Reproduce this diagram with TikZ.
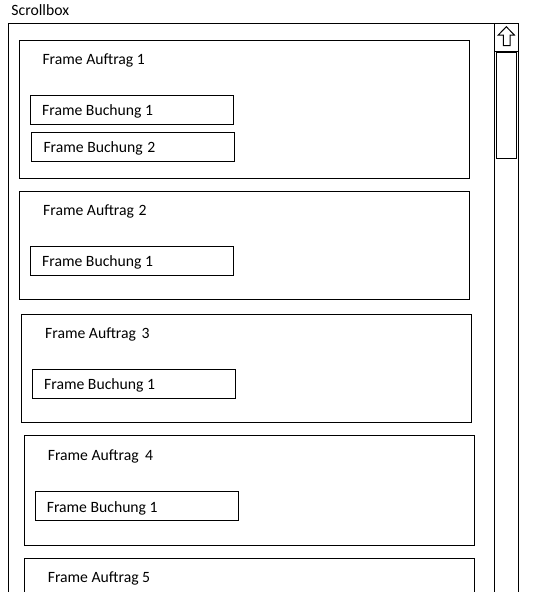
\documentclass[tikz,border=0pt]{standalone}
\usepackage{fontspec}
\usepackage{tikz}
\usetikzlibrary{positioning,calc}
\newfontfamily\calibri{Carlito}
\tikzset{every picture/.style={/utils/exec={\calibri}}}
\tikzset{
    framebox/.style={draw=black, line width=1pt, inner sep=0pt, outer sep=0pt, anchor=north west},
    frametext/.style={anchor=base west, inner sep=0pt, font=\calibri\fontsize{15.7}{18}\selectfont}
}

\begin{document}
\begin{tikzpicture}[x=1pt, y=-1pt, line width=1pt]
    \useasboundingbox (0,0) rectangle (533,592);

    \node[frametext] (title) at (11, 15) {Scrollbox};

    % scrollbox
    \draw (8.5, 600) -- (8.5, 23.5) -- (518.5, 23.5) -- (518.5, 600);
    \draw (494.5, 23.5) -- (494.5, 600);
    \node[framebox, minimum width=24pt, minimum height=28pt] (up) at (494.5, 23.5) {};
    \node[framebox, minimum width=20pt, minimum height=106pt] (thumb) at (496.5, 52.5) {};
    \draw[line join=miter] (506.3, 26.7) -- (514.3, 35) -- (510, 35) -- (510, 45.7)
        -- (503.3, 45.7) -- (503.3, 35) -- (498.3, 35) -- cycle;

    % Auftrag 1
    \node[framebox, minimum width=450pt, minimum height=138pt] (a1) at (19.5, 40.5) {};
    \node[frametext] (a1t) at (42, 64) {Frame Auftrag 1};
    \node[framebox, minimum width=203pt, minimum height=29pt] (b11) at (30.5, 95.5) {};
    \node[frametext] (b11t) at (41.7, 115) {Frame Buchung 1};
    \node[framebox, minimum width=203pt, minimum height=29pt] (b12) at (31.5, 132.5) {};
    \node[frametext] (b12t) at (43, 152) {Frame Buchung\hspace{1pt} 2};

    % Auftrag 2
    \node[framebox, minimum width=450pt, minimum height=107.5pt] (a2) at (19.5, 191.5) {};
    \node[frametext] (a2t) at (42.7, 215) {Frame Auftrag\hspace{1pt} 2};
    \node[framebox, minimum width=203pt, minimum height=29pt] (b21) at (30.5, 246.5) {};
    \node[frametext] (b21t) at (41.7, 266) {Frame Buchung 1};

    % Auftrag 3
    \node[framebox, minimum width=450pt, minimum height=107.5pt] (a3) at (21.5, 314.5) {};
    \node[frametext] (a3t) at (44.7, 338) {Frame Auftrag\hspace{2pt} 3};
    \node[framebox, minimum width=203pt, minimum height=29pt] (b31) at (32.5, 369.5) {};
    \node[frametext] (b31t) at (43.7, 389) {Frame Buchung 1};

    % Auftrag 4
    \node[framebox, minimum width=450pt, minimum height=110pt] (a4) at (24.5, 435.5) {};
    \node[frametext] (a4t) at (47.3, 460) {Frame Auftrag\hspace{3pt} 4};
    \node[framebox, minimum width=203pt, minimum height=29pt] (b41) at (35.5, 491.5) {};
    \node[frametext] (b41t) at (46.3, 512) {Frame Buchung 1};

    % Auftrag 5
    \draw (24.5, 600) -- (24.5, 558.5) -- (474.5, 558.5) -- (474.5, 600);
    \node[frametext] (a5t) at (47.3, 582.6) {Frame Auftrag 5};

\end{tikzpicture}
\end{document}
